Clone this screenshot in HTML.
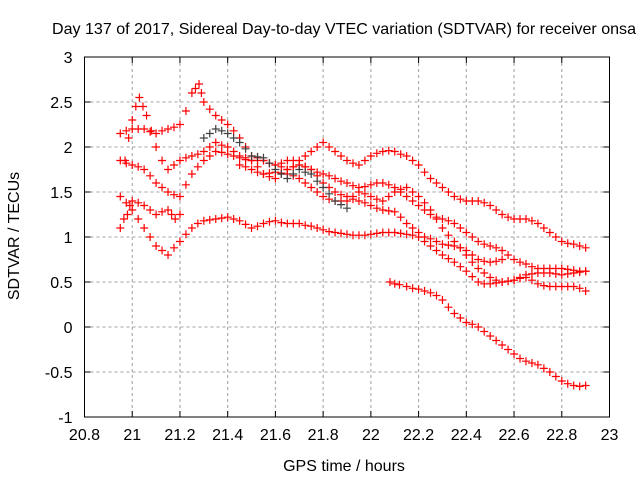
<!DOCTYPE html>
<html><head><meta charset="utf-8"><style>
body{margin:0;background:#fff}
svg{font-family:"Liberation Sans",sans-serif}
</style></head><body>
<svg id="chart" width="640" height="480">
<rect width="640" height="480" fill="#fff"/>
<text x="52" y="34" font-size="16" textLength="584" lengthAdjust="spacingAndGlyphs">Day 137 of 2017, Sidereal Day-to-day VTEC variation (SDTVAR) for receiver onsa</text>
<g id="grid"></g><g id="ticks"></g><g id="marks"></g>
<rect x="84.5" y="57" width="525" height="360" fill="none" stroke="#000" stroke-width="1"/>
<text x="344" y="471" font-size="16" text-anchor="middle">GPS time / hours</text>
<text transform="translate(19,236) rotate(-90)" font-size="16" text-anchor="middle">SDTVAR / TECUs</text>
</svg>
<script>
const xTicks=[20.8,21,21.2,21.4,21.6,21.8,22,22.2,22.4,22.6,22.8,23];
const xTickLabels=["20.8","21","21.2","21.4","21.6","21.8","22","22.2","22.4","22.6","22.8","23"];
const yTicks=[-1,-0.5,0,0.5,1,1.5,2,2.5,3];
const yTickLabels=["-1","-0.5","0","0.5","1","1.5","2","2.5","3"];
const track1=[[20.95,1.45],[20.975,1.38],[21.0,1.3],[21.025,1.2],[21.05,1.1],[21.075,1.0],[21.1,0.9],[21.125,0.85],[21.15,0.8],[21.175,0.88],[21.2,0.95],[21.225,1.03],[21.25,1.1],[21.275,1.15],[21.3,1.18],[21.325,1.19],[21.35,1.2],[21.375,1.21],[21.4,1.22],[21.425,1.2],[21.45,1.18],[21.475,1.14],[21.5,1.1],[21.525,1.12],[21.55,1.15],[21.575,1.17],[21.6,1.18],[21.625,1.16],[21.65,1.15],[21.675,1.15],[21.7,1.15],[21.725,1.13],[21.75,1.12],[21.775,1.1],[21.8,1.08],[21.825,1.06],[21.85,1.05],[21.875,1.04],[21.9,1.03],[21.925,1.02],[21.95,1.02],[21.975,1.02],[22.0,1.03],[22.025,1.04],[22.05,1.05],[22.075,1.05],[22.1,1.05],[22.125,1.04],[22.15,1.03],[22.175,1.02],[22.2,1.0],[22.225,0.95],[22.25,0.9],[22.275,0.85],[22.3,0.8],[22.325,0.76],[22.35,0.72],[22.375,0.67],[22.4,0.62],[22.425,0.56],[22.45,0.5],[22.475,0.48],[22.5,0.48],[22.525,0.49],[22.55,0.5],[22.575,0.51],[22.6,0.52],[22.625,0.55],[22.65,0.58],[22.675,0.59],[22.7,0.6],[22.725,0.6],[22.75,0.6],[22.775,0.59],[22.8,0.58],[22.825,0.59],[22.85,0.6],[22.875,0.61],[22.9,0.62]];
const track2=[[20.95,2.15],[20.975,2.18],[21.0,2.2],[21.025,2.2],[21.05,2.2],[21.075,2.17],[21.1,2.15],[21.125,2.18],[21.15,2.2],[21.175,2.22],[21.2,2.25],[21.225,2.4],[21.25,2.6],[21.265,2.65],[21.28,2.7],[21.29,2.6],[21.3,2.5],[21.325,2.42],[21.35,2.35],[21.375,2.3],[21.4,2.25],[21.425,2.18],[21.45,2.1],[21.475,2.0],[21.5,1.9],[21.525,1.88],[21.55,1.85],[21.575,1.82],[21.6,1.8],[21.625,1.78],[21.65,1.75],[21.675,1.78],[21.7,1.8],[21.725,1.78],[21.75,1.75],[21.775,1.72],[21.8,1.7],[21.825,1.68],[21.85,1.65],[21.875,1.62],[21.9,1.6],[21.925,1.57],[21.95,1.55],[21.975,1.56],[22.0,1.58],[22.025,1.6],[22.05,1.6],[22.075,1.58],[22.1,1.55],[22.125,1.5],[22.15,1.45],[22.175,1.4],[22.2,1.35],[22.225,1.3],[22.25,1.25],[22.275,1.22],[22.3,1.2],[22.325,1.18],[22.35,1.15],[22.375,1.1],[22.4,1.05],[22.425,1.0],[22.45,0.95],[22.475,0.92],[22.5,0.9],[22.525,0.88],[22.55,0.85],[22.575,0.8],[22.6,0.75],[22.625,0.72],[22.65,0.7],[22.675,0.67],[22.7,0.65],[22.725,0.65],[22.75,0.65],[22.775,0.65],[22.8,0.65],[22.825,0.64],[22.85,0.63],[22.875,0.62],[22.9,0.62]];
const track3=[[20.97,1.85],[20.985,2.1],[21.0,2.3],[21.015,2.45],[21.03,2.55],[21.045,2.45],[21.06,2.35],[21.08,2.18],[21.1,2.0],[21.125,1.85],[21.15,1.75],[21.175,1.8],[21.2,1.85],[21.225,1.88],[21.25,1.9],[21.275,1.92],[21.3,1.95],[21.325,2.0],[21.35,2.05],[21.375,2.02],[21.4,2.0],[21.425,1.95],[21.45,1.9],[21.475,1.88],[21.5,1.85],[21.525,1.85],[21.55,1.85],[21.575,1.82],[21.6,1.8],[21.625,1.82],[21.65,1.85],[21.675,1.85],[21.7,1.85],[21.725,1.9],[21.75,1.95],[21.775,2.0],[21.8,2.05],[21.825,2.0],[21.85,1.95],[21.875,1.9],[21.9,1.85],[21.925,1.82],[21.95,1.8],[21.975,1.85],[22.0,1.9],[22.025,1.93],[22.05,1.95],[22.075,1.96],[22.1,1.95],[22.125,1.92],[22.15,1.9],[22.175,1.85],[22.2,1.8],[22.225,1.72],[22.25,1.65],[22.275,1.6],[22.3,1.55],[22.325,1.5],[22.35,1.45],[22.375,1.42],[22.4,1.4],[22.425,1.4],[22.45,1.4],[22.475,1.38],[22.5,1.35],[22.525,1.3],[22.55,1.25],[22.575,1.22],[22.6,1.2],[22.625,1.2],[22.65,1.2],[22.675,1.18],[22.7,1.15],[22.725,1.1],[22.75,1.05],[22.775,1.0],[22.8,0.95],[22.825,0.93],[22.85,0.92],[22.875,0.9],[22.9,0.88]];
const track4=[[20.95,1.85],[20.975,1.82],[21.0,1.8],[21.025,1.78],[21.05,1.75],[21.075,1.68],[21.1,1.6],[21.125,1.55],[21.15,1.5],[21.175,1.47],[21.2,1.45],[21.225,1.58],[21.25,1.7],[21.275,1.78],[21.3,1.85],[21.325,1.9],[21.35,1.95],[21.375,1.94],[21.4,1.92],[21.425,1.9],[21.45,1.88],[21.475,1.86],[21.5,1.85],[21.525,1.78],[21.55,1.7],[21.575,1.67],[21.6,1.65],[21.625,1.7],[21.65,1.75],[21.675,1.78],[21.7,1.8],[21.725,1.78],[21.75,1.75],[21.775,1.68],[21.8,1.6],[21.825,1.55],[21.85,1.5],[21.875,1.47],[21.9,1.45],[21.925,1.42],[21.95,1.4],[21.975,1.38],[22.0,1.35],[22.025,1.32],[22.05,1.3],[22.075,1.29],[22.1,1.28],[22.125,1.22],[22.15,1.15],[22.175,1.1],[22.2,1.05],[22.225,1.0],[22.25,0.98],[22.275,0.95],[22.3,0.92],[22.325,0.91],[22.35,0.9],[22.375,0.88],[22.4,0.85],[22.425,0.8],[22.45,0.75],[22.475,0.73],[22.5,0.72],[22.525,0.73],[22.55,0.75]];
const track5=[[21.45,1.8],[21.475,1.78],[21.5,1.75],[21.525,1.72],[21.55,1.7],[21.575,1.71],[21.6,1.72],[21.625,1.71],[21.65,1.7],[21.675,1.68],[21.7,1.65],[21.725,1.6],[21.75,1.55],[21.775,1.5],[21.8,1.45],[21.825,1.42],[21.85,1.4],[21.875,1.4],[21.9,1.4],[21.925,1.45],[21.95,1.5],[21.975,1.48],[22.0,1.45],[22.025,1.42],[22.05,1.4],[22.075,1.45],[22.1,1.5],[22.125,1.53],[22.15,1.55],[22.175,1.5],[22.2,1.45],[22.225,1.38],[22.25,1.3],[22.275,1.2],[22.3,1.1],[22.325,1.02],[22.35,0.95],[22.375,0.88],[22.4,0.8],[22.425,0.72],[22.45,0.65],[22.475,0.6],[22.5,0.55],[22.525,0.52],[22.55,0.5],[22.575,0.51],[22.6,0.52],[22.625,0.54],[22.65,0.55],[22.675,0.52],[22.7,0.48],[22.725,0.46],[22.75,0.45],[22.775,0.45],[22.8,0.45],[22.825,0.45],[22.85,0.45],[22.875,0.43],[22.9,0.4]];
const track6=[[22.08,0.5],[22.1,0.48],[22.12,0.47],[22.15,0.45],[22.175,0.43],[22.2,0.42],[22.225,0.4],[22.25,0.38],[22.275,0.35],[22.3,0.3],[22.325,0.22],[22.35,0.15],[22.375,0.1],[22.4,0.05],[22.425,0.03],[22.45,0.0],[22.475,-0.05],[22.5,-0.1],[22.525,-0.15],[22.55,-0.2],[22.575,-0.25],[22.6,-0.3],[22.625,-0.35],[22.65,-0.38],[22.675,-0.4],[22.7,-0.42],[22.725,-0.46],[22.75,-0.5],[22.775,-0.55],[22.8,-0.6],[22.825,-0.63],[22.85,-0.65],[22.875,-0.66],[22.9,-0.65]];
const track7=[[20.95,1.1],[20.965,1.2],[20.98,1.25],[20.99,1.35],[21.0,1.4],[21.025,1.38],[21.05,1.35],[21.075,1.3],[21.1,1.25],[21.125,1.28],[21.15,1.3],[21.165,1.25],[21.18,1.2],[21.2,1.25]];
const track8=[[21.3,2.1],[21.325,2.15],[21.35,2.2],[21.375,2.18],[21.4,2.15],[21.425,2.1],[21.45,2.05],[21.475,1.98],[21.5,1.9],[21.525,1.89],[21.55,1.88],[21.575,1.82],[21.6,1.75],[21.625,1.7],[21.65,1.65],[21.675,1.7],[21.7,1.75],[21.725,1.72],[21.75,1.7],[21.775,1.62],[21.8,1.55],[21.825,1.48],[21.85,1.4],[21.875,1.36],[21.9,1.32]];
const tracks=[track1,track2,track3,track4,track5,track6,track7,track8];
const trackColors=["#ff0000","#ff0000","#ff0000","#ff0000","#ff0000","#ff0000","#ff0000","#404040"];

const X0=84.5,X1=609.5,Y0=417,Y1=57;
const sx=t=>X0+(t-20.8)/(23-20.8)*(X1-X0);
const sy=v=>Y0-(v+1)/4*(Y0-Y1);
const NS="http://www.w3.org/2000/svg";
const grid=document.getElementById('grid'),ticks=document.getElementById('ticks'),marks=document.getElementById('marks');
function mk(tag,attrs,parent){const e=document.createElementNS(NS,tag);for(const k in attrs)e.setAttribute(k,attrs[k]);parent.appendChild(e);return e;}
xTicks.forEach((t,i)=>{const x=sx(t);
 if(i>0&&i<xTicks.length-1){const g=mk('line',{x1:x,x2:x,y1:Y1,y2:Y0,stroke:'#a0a0a0','stroke-dasharray':'3,3'},grid);
 
 }
 mk('line',{x1:x,x2:x,y1:Y0,y2:Y0-6,stroke:'#000'},ticks);mk('line',{x1:x,x2:x,y1:Y1,y2:Y1+6,stroke:'#000'},ticks);
 const l=mk('text',{x:x,y:Y0+23,'font-size':16,'text-anchor':'middle'},ticks);l.textContent=xTickLabels[i];
 
 });
yTicks.forEach((v,i)=>{const y=sy(v);
 if(i>0&&i<yTicks.length-1){const g=mk('line',{x1:X0,x2:X1,y1:y,y2:y,stroke:'#a0a0a0','stroke-dasharray':'3,3'},grid);
 
 }
 mk('line',{x1:X0,x2:X0+6,y1:y,y2:y,stroke:'#000'},ticks);mk('line',{x1:X1,x2:X1-6,y1:y,y2:y,stroke:'#000'},ticks);
 const l=mk('text',{x:X0-12,y:y+6,'font-size':16,'text-anchor':'end'},ticks);l.textContent=yTickLabels[i];
 
 });
tracks.forEach((tr,k)=>{tr.forEach(p=>{const x=sx(p[0]),y=sy(p[1]);
 const m=mk('path',{d:`M${x-4},${y}h8M${x},${y-4}v8`,stroke:trackColors[k],'stroke-width':1.2,fill:'none'},marks);
 
 });});
</script>
</body></html>
